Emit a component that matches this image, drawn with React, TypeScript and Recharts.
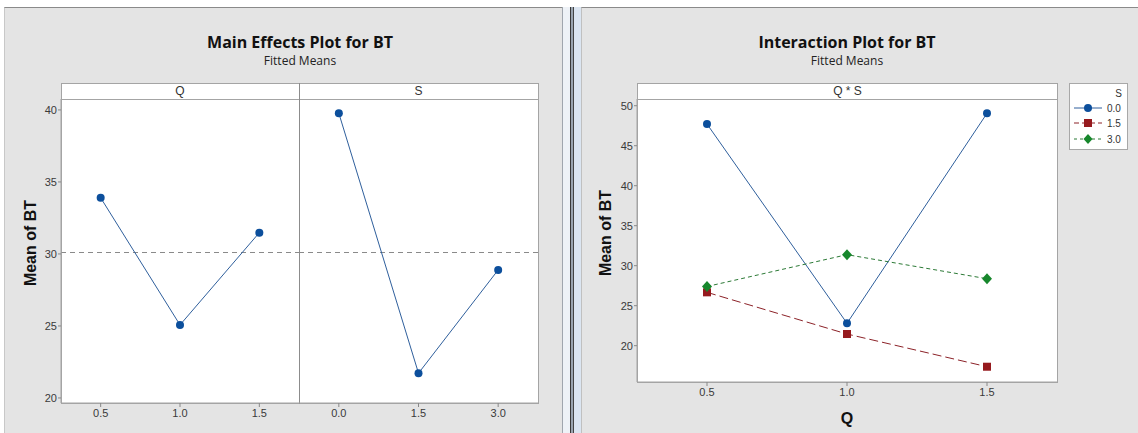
import React from 'react';
import { LineChart, Line, XAxis, YAxis, ReferenceLine, Legend } from 'recharts';

// ---------- data ----------
const qLevels = [0.5, 1.0, 1.5];
const sLevels = [0.0, 1.5, 3.0];
const qMainMeans = [33.9, 25.07, 31.48];
const sMainMeans = [39.77, 21.72, 28.89];
const grandMean = 30.1;
const mainYTicks = [20, 25, 30, 35, 40];
const interYTicks = [20, 25, 30, 35, 40, 45, 50];
const interS00 = [47.71, 22.8, 49.05];
const interS15 = [26.67, 21.46, 17.37];
const interS30 = [27.4, 31.38, 28.37];
const sLegendLabels = ['0.0', '1.5', '3.0'];

const qMainData = qLevels.map((x, i) => ({ x, y: qMainMeans[i] }));
const sMainData = sLevels.map((x, i) => ({ x, y: sMainMeans[i] }));
const interData = qLevels.map((q, i) => ({ q, s00: interS00[i], s15: interS15[i], s30: interS30[i] }));

// ---------- styles ----------
const TICK_FONT = "'Liberation Sans', Arial, sans-serif";
const TITLE_FONT = "'Open Sans', 'Noto Sans', sans-serif";
const BLUE_LINE = '#2f5f9c';
const BLUE_MARK = '#0c4f9c';
const RED_LINE = '#8c2228';
const RED_MARK = '#961a1e';
const GREEN_LINE = '#2c7a36';
const GREEN_MARK = '#17872c';
const PANEL_BG = '#e4e4e4';
const FRAME = '#a4a4a4';

const fmt = (v: number) => v.toFixed(1);
const tickStyle = { fontSize: 11, fill: '#3a3a3a', fontFamily: TICK_FONT };

const circleDot = (p: any) =>
  p.cx == null ? <g key={`c-${p.index}`} /> : <circle key={`c-${p.index}`} cx={p.cx} cy={p.cy} r={4} fill={BLUE_MARK} />;
const squareDot = (p: any) =>
  p.cx == null ? <g key={`s-${p.index}`} /> : <rect key={`s-${p.index}`} x={p.cx - 4} y={p.cy - 4} width={8} height={8} fill={RED_MARK} />;
const diamondDot = (p: any) =>
  p.cx == null ? (
    <g key={`d-${p.index}`} />
  ) : (
    <polygon
      key={`d-${p.index}`}
      points={`${p.cx},${p.cy - 5.5} ${p.cx + 5},${p.cy} ${p.cx},${p.cy + 5.5} ${p.cx - 5},${p.cy}`}
      fill={GREEN_MARK}
    />
  );

const yLabel = (centerY: number, centerX: number, chartLeft: number) => (props: any) => {
  return (
    <text
      x={centerX - chartLeft}
      y={centerY}
      transform={`rotate(-90, ${centerX - chartLeft}, ${centerY})`}
      textAnchor="middle"
      dominantBaseline="central"
      fontFamily={TICK_FONT}
      fontWeight="bold"
      fontSize={16}
      fill="#111"
    >
      Mean of BT
    </text>
  );
};

const abs = (l: number, t: number, w: number, h: number, extra: any = {}) => ({
  position: 'absolute' as const,
  left: l,
  top: t,
  width: w,
  height: h,
  boxSizing: 'border-box' as const,
  ...extra,
});

const LegendBox = () => {
  const rows = [
    { label: sLegendLabels[0], color: BLUE_LINE, dash: undefined as string | undefined, kind: 'c' },
    { label: sLegendLabels[1], color: RED_LINE, dash: '5 3', kind: 's' },
    { label: sLegendLabels[2], color: GREEN_LINE, dash: '3 3', kind: 'd' },
  ];
  const ys = [25, 40, 56];
  return (
    <svg width={59} height={67} style={{ display: 'block' }}>
      <rect x={0.5} y={0.5} width={58} height={66} fill="#fff" stroke="#a8a8a8" />
      <text x={53} y={10} textAnchor="end" dominantBaseline="central" fontSize={10} fontFamily={TICK_FONT} fill="#333">
        S
      </text>
      {rows.map((r, i) => (
        <g key={r.label}>
          <line x1={5} x2={33} y1={ys[i]} y2={ys[i]} stroke={r.color} strokeWidth={1} strokeDasharray={r.dash} />
          {r.kind === 'c' && <circle cx={19} cy={ys[i]} r={4} fill={BLUE_MARK} />}
          {r.kind === 's' && <rect x={15} y={ys[i] - 4} width={8} height={8} fill={RED_MARK} />}
          {r.kind === 'd' && (
            <polygon points={`19,${ys[i] - 5} 23.5,${ys[i]} 19,${ys[i] + 5} 14.5,${ys[i]}`} fill={GREEN_MARK} />
          )}
          <text x={38} y={ys[i]} dominantBaseline="central" fontSize={10} fontFamily={TICK_FONT} fill="#333">
            {r.label}
          </text>
        </g>
      ))}
    </svg>
  );
};

export default function App() {
  return (
    <div style={{ position: 'absolute', left: 0, top: 0, width: 1138, height: 433, background: '#fff', overflow: 'hidden' }}>
      {/* window backgrounds */}
      <div style={abs(4, 7, 558, 426, { background: PANEL_BG, borderTop: '1px solid #8a8a8a', borderLeft: '1px solid #c8c8c8' })} />
      <div style={abs(562, 7, 9, 426, { background: '#eef2f7', borderLeft: '1px solid #a0a6ae' })} />
      <div style={abs(570, 7, 1, 426, { background: '#3a3a3a' })} />
      <div style={abs(571, 7, 2, 426, { background: '#9aa4b0' })} />
      <div style={abs(573, 7, 1, 426, { background: '#444' })} />
      <div style={abs(574, 7, 7, 426, { background: '#dbe5f1' })} />
      <div style={abs(581, 7, 557, 426, { background: PANEL_BG, borderTop: '1px solid #8a8a8a', borderLeft: '1px solid #c0c0c0' })} />

      {/* titles */}
      <div style={abs(100, 30, 400, 24, { textAlign: 'center', fontFamily: TITLE_FONT, fontWeight: 700, fontSize: 16, lineHeight: '24px', color: '#111' })}>
        Main Effects Plot for BT
      </div>
      <div style={abs(100, 53, 400, 16, { textAlign: 'center', fontFamily: TITLE_FONT, fontSize: 12, lineHeight: '16px', color: '#222' })}>
        Fitted Means
      </div>
      <div style={abs(647, 30, 400, 24, { textAlign: 'center', fontFamily: TITLE_FONT, fontWeight: 700, fontSize: 16, lineHeight: '24px', color: '#111' })}>
        Interaction Plot for BT
      </div>
      <div style={abs(647, 53, 400, 16, { textAlign: 'center', fontFamily: TITLE_FONT, fontSize: 12, lineHeight: '16px', color: '#222' })}>
        Fitted Means
      </div>

      {/* left panel frames */}
      <div style={abs(61, 83, 478, 17, { background: '#fff', border: `1px solid ${FRAME}` })} />
      <div style={abs(61, 99, 478, 305, { background: '#fff', border: `1px solid ${FRAME}` })} />
      <div style={abs(299, 83, 1, 321, { background: '#8c8c8c' })} />
      <div style={abs(61, 83, 238, 16, { textAlign: 'center', fontFamily: TICK_FONT, fontSize: 12, lineHeight: '16px', color: '#333' })}>Q</div>
      <div style={abs(299, 83, 239, 16, { textAlign: 'center', fontFamily: TICK_FONT, fontSize: 12, lineHeight: '16px', color: '#333' })}>S</div>

      {/* right panel frames */}
      <div style={abs(637, 83, 421, 17, { background: '#fff', border: `1px solid ${FRAME}` })} />
      <div style={abs(637, 99, 421, 284, { background: '#fff', border: `1px solid ${FRAME}` })} />
      <div style={abs(637, 83, 421, 16, { textAlign: 'center', fontFamily: TICK_FONT, fontSize: 12, lineHeight: '16px', color: '#333' })}>Q * S</div>

      {/* Main effects: Q */}
      <div style={{ position: 'absolute', left: 0, top: 0 }}>
        <LineChart width={300} height={433} data={qMainData} margin={{ top: 99, right: 1, bottom: 0, left: 5 }}>
          <XAxis
            dataKey="x"
            type="number"
            domain={[0.25, 1.75]}
            ticks={qLevels}
            tickFormatter={fmt}
            allowDataOverflow
            height={30}
            tickSize={4}
            tickMargin={2}
            axisLine={{ stroke: FRAME }}
            tickLine={{ stroke: '#888' }}
            tick={tickStyle}
          />
          <YAxis
            type="number"
            domain={[19.65, 40.76]}
            ticks={mainYTicks}
            allowDataOverflow
            width={56}
            tickSize={3}
            tickMargin={1}
            axisLine={{ stroke: FRAME }}
            tickLine={{ stroke: '#888' }}
            tick={tickStyle}
            label={{ content: yLabel(243, 30, 0) }}
          />
          <ReferenceLine y={grandMean} stroke="#8a8a8a" strokeDasharray="5 4" />
          <Line dataKey="y" stroke={BLUE_LINE} strokeWidth={1} dot={circleDot} activeDot={false} isAnimationActive={false} />
        </LineChart>
      </div>

      {/* Main effects: S */}
      <div style={{ position: 'absolute', left: 299, top: 0 }}>
        <LineChart width={240} height={433} data={sMainData} margin={{ top: 99, right: 1, bottom: 0, left: 0 }}>
          <XAxis
            dataKey="x"
            type="number"
            domain={[-0.75, 3.75]}
            ticks={sLevels}
            tickFormatter={fmt}
            allowDataOverflow
            height={30}
            tickSize={4}
            tickMargin={2}
            axisLine={{ stroke: FRAME }}
            tickLine={{ stroke: '#888' }}
            tick={tickStyle}
          />
          <YAxis type="number" domain={[19.65, 40.76]} allowDataOverflow hide />
          <ReferenceLine y={grandMean} stroke="#8a8a8a" strokeDasharray="5 4" />
          <Line dataKey="y" stroke={BLUE_LINE} strokeWidth={1} dot={circleDot} activeDot={false} isAnimationActive={false} />
        </LineChart>
      </div>

      {/* Interaction plot */}
      <div style={{ position: 'absolute', left: 580, top: 0 }}>
        <LineChart width={558} height={433} data={interData} margin={{ top: 99, right: 81, bottom: 0, left: 27 }}>
          <XAxis
            dataKey="q"
            type="number"
            domain={[0.25, 1.75]}
            ticks={qLevels}
            tickFormatter={fmt}
            allowDataOverflow
            height={51}
            tickSize={4}
            tickMargin={2}
            axisLine={{ stroke: FRAME }}
            tickLine={{ stroke: '#888' }}
            tick={tickStyle}
            label={{ value: 'Q', position: 'insideBottom', offset: 9, fontSize: 16, fontWeight: 'bold', fontFamily: TICK_FONT, fill: '#111' }}
          />
          <YAxis
            type="number"
            domain={[15.46, 50.84]}
            ticks={interYTicks}
            allowDataOverflow
            width={30}
            tickSize={3}
            tickMargin={1}
            axisLine={{ stroke: FRAME }}
            tickLine={{ stroke: '#888' }}
            tick={tickStyle}
            label={{ content: yLabel(233, 605, 580) }}
          />
          <Legend
            layout="horizontal"
            verticalAlign="middle"
            align="center"
            wrapperStyle={{ position: 'absolute', left: 489, top: 83, width: 59, height: 67 }}
            content={() => <LegendBox />}
          />
          <Line dataKey="s00" name={sLegendLabels[0]} stroke={BLUE_LINE} strokeWidth={1} dot={circleDot} activeDot={false} isAnimationActive={false} />
          <Line dataKey="s15" name={sLegendLabels[1]} stroke={RED_LINE} strokeWidth={1} strokeDasharray="9 4" dot={squareDot} activeDot={false} isAnimationActive={false} />
          <Line dataKey="s30" name={sLegendLabels[2]} stroke={GREEN_LINE} strokeWidth={1} strokeDasharray="4 3" dot={diamondDot} activeDot={false} isAnimationActive={false} />
        </LineChart>
      </div>
    </div>
  );
}
